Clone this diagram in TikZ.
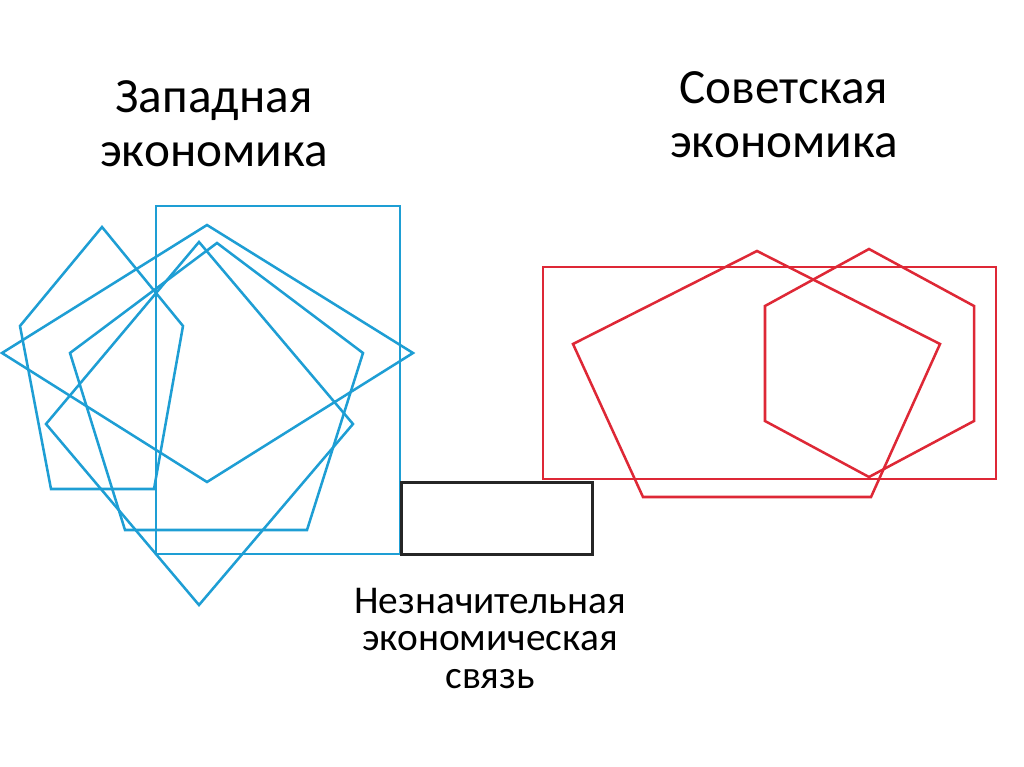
\documentclass[tikz,border=0pt]{standalone}
\usepackage{fontspec}
\setmainfont{Carlito}
\definecolor{westblue}{RGB}{30,158,212}
\definecolor{sovred}{RGB}{222,40,54}
\tikzset{
  westline/.style={draw=westblue,line width=1.8pt,line join=miter},
  sovline/.style={draw=sovred,line width=1.8pt,line join=miter},
  linkbox/.style={draw=black!85,line width=2.2pt},
  bigtitle/.style={align=center,inner sep=0pt,font=\fontsize{35}{39}\selectfont},
  smalltitle/.style={align=center,inner sep=0pt,font=\fontsize{28}{26.5}\selectfont}
}
\begin{document}
\begin{tikzpicture}[x=0.025cm,y=-0.025cm]
        \useasboundingbox (0,0) rectangle (1024,767);
        % western economy
        \draw[westline] (156,206) rectangle (400,554);
        \draw[westline] (102,227)--(183,326)--(154,489)--(51,489)--(20,326)--cycle;
        \draw[westline] (207,225)--(413,353)--(207,482)--(2,353)--cycle;
        \draw[westline] (199,242)--(353,424)--(199,605)--(46,424)--cycle;
        \draw[westline] (217,243)--(363,353)--(307,530)--(125,530)--(70,353)--cycle;
        % soviet economy
        \draw[sovline] (543,267) rectangle (996,479);
        \draw[sovline] (757,251)--(940,344)--(871,497)--(643,497)--(573,344)--cycle;
        \draw[sovline] (869,249)--(974,306)--(974,421)--(869,477)--(765,421)--(765,306)--cycle;
        % weak link
        \node[linkbox,minimum width=191*0.025cm,minimum height=72*0.025cm,anchor=north west,inner sep=0pt] (link) at (400,481) {};
        \node[bigtitle,anchor=base] (west) at (214,167) {Западная\\экономика};
        \node[bigtitle,anchor=base] (sov) at (784,158) {Советская\\экономика};
        \node[smalltitle,anchor=base] (weak) at (490,688) {Незначительная\\экономическая\\связь};
\end{tikzpicture}
\end{document}
